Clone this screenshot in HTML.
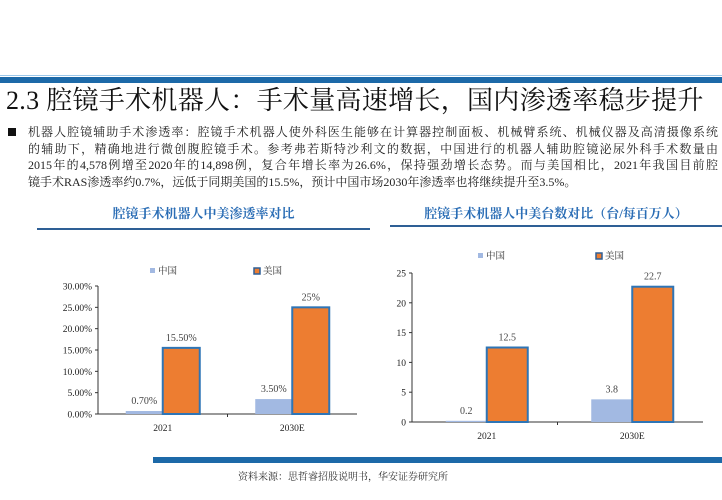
<!DOCTYPE html>
<html><head><meta charset="utf-8"><style>
body{margin:0;width:722px;height:500px;background:#fff;position:relative;overflow:hidden;font-family:"Liberation Serif","Noto Serif CJK SC",serif;}
.abs{position:absolute;}
.ln{display:block;width:690px;text-align:justify;text-align-last:justify;white-space:nowrap;height:16.5px}
.ln.last{text-align-last:left}
</style></head><body>
<div class="abs" style="left:0;top:75px;width:722px;height:1px;background:#9cc8ea"></div>
<div class="abs" style="left:0;top:77px;width:722px;height:6px;background:#1c69a8"></div>
<div class="abs" style="left:6px;top:84px;font-size:26px;line-height:34px;color:#111;white-space:nowrap;letter-spacing:0.3px">2.3 腔镜手术机器人：手术量高速增长，国内渗透率稳步提升</div>
<div class="abs" style="left:8px;top:128px;width:8px;height:8px;background:#111"></div>
<div class="abs" style="left:28px;top:124px;width:690px;font-size:12px;line-height:16.5px;color:#222">
<span class="ln" style="white-space:normal">机器人腔镜辅助手术渗透率：腔镜手术机器人使外科医生能够在计算器控制面板、机械臂系统、机械仪器及高清摄像系统</span>
<span class="ln" style="white-space:normal">的辅助下，精确地进行微创腹腔镜手术。参考弗若斯特沙利文的数据，中国进行的机器人辅助腔镜泌尿外科手术数量由</span>
<span class="ln" style="white-space:normal">2015年的4,578例增至2020年的14,898例，复合年增长率为26.6%，保持强劲增长态势。而与美国相比，2021年我国目前腔</span>
<span class="ln last">镜手术RAS渗透率约0.7%，远低于同期美国的15.5%，预计中国市场2030年渗透率也将继续提升至3.5%。</span>
</div>
<div class="abs" style="left:37px;width:333px;top:203px;text-align:center;font-size:13px;font-weight:bold;color:#2a6db5">腔镜手术机器人中美渗透率对比</div>
<div class="abs" style="left:37px;top:228px;width:333px;height:2px;background:#2e5f95"></div>
<div class="abs" style="left:390px;width:332px;top:203px;text-align:center;font-size:13px;font-weight:bold;color:#2a6db5">腔镜手术机器人中美台数对比（台/每百万人）</div>
<div class="abs" style="left:390px;top:225px;width:332px;height:2px;background:#2e5f95"></div>
<svg class="abs" style="left:0;top:0" width="722" height="500" id="charts"></svg>
<div class="abs" style="left:153px;top:457px;width:569px;height:6px;background:#1c69a8"></div>
<div class="abs" style="left:238px;top:468px;font-size:10px;color:#333;white-space:nowrap">资料来源：思哲睿招股说明书，华安证券研究所</div>
<script>
const categories=["2021","2030E"];
const leftChina=[0.7,3.5];
const leftUS=[15.5,25];
const leftLabelsChina=["0.70%","3.50%"];
const leftLabelsUS=["15.50%","25%"];
const leftTicks=[0,5,10,15,20,25,30];
const rightChina=[0.2,3.8];
const rightUS=[12.5,22.7];
const rightLabelsChina=["0.2","3.8"];
const rightLabelsUS=["12.5","22.7"];
const rightTicks=[0,5,10,15,20,25];
const NS="http://www.w3.org/2000/svg";
const svg=document.getElementById('charts');
function mk(t,a,txt){const e=document.createElementNS(NS,t);for(const k in a)e.setAttribute(k,a[k]);if(txt!==undefined)e.textContent=txt;svg.appendChild(e);return e;}
function chart(o){
  const y=v=>o.y0-(v-o.min)/(o.max-o.min)*(o.y0-o.yTop);
  const ax=mk('line',{x1:o.x0,y1:o.yTop,x2:o.x0,y2:o.y0,stroke:'#333','stroke-width':1});
  
  const bx=mk('line',{x1:o.x0,y1:o.y0,x2:o.x1,y2:o.y0,stroke:'#333','stroke-width':1});
  
  o.ticks.forEach(t=>{
    mk('line',{x1:o.x0-3,y1:y(t),x2:o.x0,y2:y(t),stroke:'#333'});
    const tl=mk('text',{x:o.x0-6,y:y(t)+3.5,'text-anchor':'end','font-size':9.5,fill:'#222'},o.fmt(t));
    
  });
  const n=categories.length, w=(o.x1-o.x0)/n;
  mk('line',{x1:o.x0+w,y1:o.y0,x2:o.x0+w,y2:o.y0+3,stroke:'#333'});
  categories.forEach((c,i)=>{
    const cx=o.x0+w*(i+0.5)+o.shift;
    const b1=mk('rect',{x:cx-o.bw,y:y(o.china[i]),width:o.bw,height:o.y0-y(o.china[i]),fill:'#a2b9e2'});
    
    const b2=mk('rect',{x:cx,y:y(o.us[i]),width:o.bw,height:o.y0-y(o.us[i]),fill:'#ed7d31',stroke:'#2e75b6','stroke-width':2});
    
    const l1=mk('text',{x:cx-o.bw/2,y:y(o.china[i])-7,'text-anchor':'middle','font-size':10,fill:'#444'},o.lc[i]);
    
    const l2=mk('text',{x:cx+o.bw/2,y:y(o.us[i])-7,'text-anchor':'middle','font-size':10,fill:'#444'},o.lu[i]);
    
    const xl=mk('text',{x:cx,y:o.y0+17,'text-anchor':'middle','font-size':9.5,fill:'#222'},c);
    
  });
  const g1=mk('rect',{x:o.lx1,y:o.ly-3,width:5,height:5,fill:'#a2b9e2'});
  
  const t1=mk('text',{x:o.lx1+8,y:o.ly+3,'font-size':9.5,fill:'#333','font-family':'"Noto Serif CJK SC",serif'},'中国');
  
  const g2=mk('rect',{x:o.lx2,y:o.ly-3,width:6,height:6,fill:'#ed7d31',stroke:'#2e5f95','stroke-width':1.5});
  
  const t2=mk('text',{x:o.lx2+9,y:o.ly+3,'font-size':9.5,fill:'#333','font-family':'"Noto Serif CJK SC",serif'},'美国');
  
}
chart({id:'penetration',x0:98,x1:357,y0:414,yTop:286,min:0,max:30,ticks:leftTicks,fmt:t=>t.toFixed(2)+'%',china:leftChina,us:leftUS,lc:leftLabelsChina,lu:leftLabelsUS,bw:37,shift:0,lx1:150,lx2:254,ly:271});
chart({id:'units',x0:412,x1:703,y0:422,yTop:273,min:0,max:25,ticks:rightTicks,fmt:t=>String(t),china:rightChina,us:rightUS,lc:rightLabelsChina,lu:rightLabelsUS,bw:41,shift:2,lx1:478,lx2:596,ly:256});
</script>
</body></html>
